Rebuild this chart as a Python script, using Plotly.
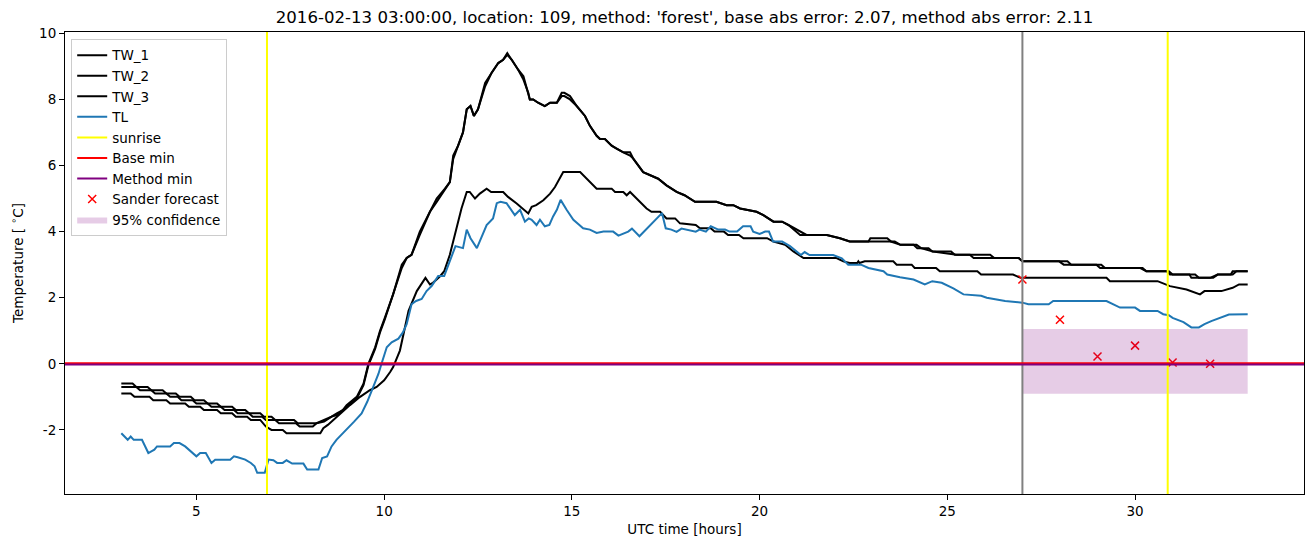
import plotly.graph_objects as go

# ---------------- data ----------------
t_tw1 = [3.0, 3.3, 3.4, 3.7, 3.8, 4.1, 4.2, 4.45, 4.55, 4.85, 4.95, 5.2, 5.3, 5.55, 5.65, 5.95, 6.05, 6.3,
         6.4, 6.7, 6.8, 7.0, 7.1, 7.6, 7.7, 8.1, 8.2, 8.4, 8.6, 8.74, 8.9, 9.0, 9.27, 9.45, 9.58, 9.76, 9.89,
         10.02, 10.24, 10.47, 10.6, 10.73, 10.95, 11.22, 11.4, 11.62, 11.75, 11.84, 11.97, 12.1, 12.2, 12.3,
         12.39, 12.5, 12.69, 12.86, 13.04, 13.17, 13.28, 13.4, 13.57, 13.71, 13.84, 13.88, 13.97, 14.1, 14.28,
         14.42, 14.6, 14.73, 14.8, 14.95, 15.13, 15.35, 15.48, 15.66, 15.75, 15.88, 16.06, 16.2, 16.37, 16.55,
         16.64, 16.9, 17.08, 17.3, 17.52, 17.79, 18.0, 18.28, 18.85, 19.12, 19.3, 19.48, 19.92, 20.1, 20.37,
         20.6, 20.77, 21.08, 21.25, 21.79, 22.14, 22.4, 22.94, 23.6, 23.75, 24.0, 24.18, 24.3, 24.62, 25.24,
         25.5, 26.14, 26.25, 26.9, 27.0, 27.98, 28.1, 28.97, 29.07, 30.13, 30.3, 30.85, 30.93, 31.45, 31.5,
         32.08, 32.2, 32.6, 32.7, 33.0]
tw1 = [-0.6, -0.6, -0.7, -0.7, -0.8, -0.8, -0.9, -0.9, -1.0, -1.0, -1.1, -1.1, -1.2, -1.2, -1.3, -1.3, -1.4, -1.4,
       -1.5, -1.5, -1.6, -1.6, -1.7, -1.7, -1.8, -1.8, -1.8, -1.7, -1.6, -1.5, -1.4, -1.25, -1.0, -0.6, 0.0, 0.5, 1.0,
       1.4, 2.1, 3.0, 3.2, 3.3, 4.0, 4.6, 5.0, 5.3, 5.5, 6.3, 6.6, 7.0, 7.7, 7.8,
       7.5, 7.7, 8.5, 8.8, 9.1, 9.2, 9.35, 9.2, 8.9, 8.7, 8.1, 8.0, 8.0, 7.9, 7.8,
       7.9, 7.9, 8.1, 8.1, 8.0, 7.8, 7.5, 7.2, 6.9, 6.8, 6.8, 6.6, 6.5, 6.4, 6.3,
       6.2, 5.8, 5.7, 5.6, 5.4, 5.2, 5.1, 4.9, 4.9, 4.8, 4.8, 4.7, 4.6, 4.5, 4.3,
       4.3, 4.2, 3.9, 3.9, 3.9, 3.8, 3.7, 3.7, 3.7, 3.6, 3.6, 3.6, 3.5, 3.4, 3.3,
       3.3, 3.3, 3.2, 3.2, 3.1, 3.1, 3.0, 3.0, 2.9, 2.9, 2.8, 2.8, 2.7, 2.7, 2.6,
       2.6, 2.7, 2.7, 2.8, 2.8]

t_tw2 = [3.0, 3.4, 3.5, 3.8, 3.9, 4.2, 4.3, 4.5, 4.6, 4.9, 5.0, 5.3, 5.4, 5.65, 5.75, 6.0, 6.1, 6.4, 6.5,
         6.75, 6.85, 7.1, 7.2, 7.65, 7.75, 8.1, 8.2, 8.4, 8.6, 8.74, 8.9, 9.0, 9.27, 9.45, 9.58, 9.76, 9.89,
         10.02, 10.24, 10.47, 10.6, 10.73, 10.95, 11.22, 11.4, 11.62, 11.75, 11.84, 11.97, 12.1, 12.2, 12.3,
         12.39, 12.5, 12.69, 12.86, 13.04, 13.17, 13.28, 13.4, 13.57, 13.71, 13.84, 13.88, 13.97, 14.1, 14.28,
         14.42, 14.6, 14.73, 14.8, 14.95, 15.13, 15.35, 15.48, 15.66, 15.75, 15.88, 16.06, 16.2, 16.37, 16.55,
         16.64, 16.9, 17.08, 17.3, 17.52, 17.79, 18.0, 18.28, 18.85, 19.12, 19.3, 19.48, 19.92, 20.1, 20.37,
         20.6, 20.77, 21.08, 21.25, 21.79, 22.14, 22.4, 22.9, 22.95, 23.4, 23.5, 23.75, 24.1, 24.2, 24.5, 24.6,
         25.1, 25.2, 25.6, 25.7, 26.9, 27.0, 28.2, 28.3, 29.1, 29.2, 30.2, 30.3, 30.9, 31.0, 31.6, 31.7, 32.0,
         32.2, 32.55, 32.6, 33.0]
tw2 = [-0.7, -0.7, -0.8, -0.8, -0.9, -0.9, -1.0, -1.0, -1.1, -1.1, -1.2, -1.2, -1.3, -1.3, -1.4, -1.4, -1.5, -1.5, -1.6,
       -1.6, -1.7, -1.7, -1.8, -1.8, -1.9, -1.9, -1.8, -1.75, -1.6, -1.55, -1.4, -1.3, -1.05, -0.65, -0.05, 0.45, 0.95,
       1.35, 2.1, 2.9, 3.2, 3.3, 3.9, 4.6, 4.9, 5.3, 5.5, 6.2, 6.6, 7.0, 7.7, 7.8,
       7.5, 7.7, 8.4, 8.8, 9.1, 9.2, 9.4, 9.2, 8.9, 8.6, 8.2, 8.0, 8.0, 7.9, 7.8,
       7.9, 7.9, 8.2, 8.2, 8.1, 7.8, 7.5, 7.2, 6.9, 6.8, 6.8, 6.6, 6.5, 6.4, 6.4,
       6.2, 5.8, 5.7, 5.6, 5.4, 5.2, 5.1, 4.9, 4.9, 4.8, 4.8, 4.7, 4.6, 4.5, 4.3,
       4.3, 4.2, 4.0, 3.9, 3.9, 3.8, 3.7, 3.7, 3.8, 3.8, 3.7, 3.6, 3.6, 3.5, 3.5, 3.4,
       3.4, 3.3, 3.3, 3.2, 3.2, 3.1, 3.1, 3.0, 3.0, 2.9, 2.9, 2.8, 2.8, 2.7, 2.7, 2.6, 2.6,
       2.7, 2.7, 2.8, 2.8]

t_tw3 = [3.0, 3.25, 3.35, 3.75, 3.85, 4.2, 4.3, 4.7, 4.8, 5.1, 5.2, 5.55, 5.65, 5.95, 6.05, 6.35, 6.45, 6.7,
         6.85, 7.0, 7.3, 7.4, 8.3, 8.38, 8.5, 8.74, 9.09, 9.36, 9.62, 9.8, 10.0, 10.16, 10.24, 10.42, 10.65,
         10.87, 11.1, 11.22, 11.3, 11.49, 11.6, 11.75, 11.93, 12.06, 12.2, 12.28, 12.42, 12.55, 12.73, 12.85,
         13.17, 13.3, 13.53, 13.75, 13.84, 13.93, 14.05, 14.24, 14.42, 14.55, 14.68, 14.77, 15.22, 15.66, 16.06,
         16.15, 16.37, 16.46, 16.55, 16.64, 16.99, 17.12, 17.35, 17.52, 17.75, 17.88, 18.3, 18.41, 18.7, 18.8,
         19.05, 19.16, 19.45, 19.57, 20.2, 20.37, 20.68, 20.9, 21.17, 22.05, 22.23, 22.4, 22.6, 22.63, 22.66,
         22.8, 23.56, 23.65, 24.05, 24.13, 24.7, 24.8, 25.8, 25.9, 26.75, 26.95, 29.24, 29.33, 30.6, 30.93,
         31.37, 31.73, 31.85, 32.3, 32.6, 32.77, 33.0]
tw3 = [-0.9, -0.9, -1.0, -1.0, -1.1, -1.1, -1.2, -1.2, -1.3, -1.3, -1.4, -1.4, -1.5, -1.5, -1.6, -1.6, -1.7, -1.7,
       -1.9, -2.0, -2.0, -2.1, -2.1, -1.95, -1.85, -1.6, -1.25, -1.0, -0.8, -0.7, -0.5, -0.25, -0.1, 0.4, 1.6,
       2.2, 2.6, 2.4, 2.45, 2.65, 2.8, 3.3, 4.1, 4.7, 5.2, 5.2, 5.0, 5.15, 5.3, 5.2,
       5.2, 5.05, 4.85, 4.65, 4.55, 4.75, 4.8, 4.95, 5.15, 5.35, 5.6, 5.8, 5.8, 5.3, 5.3,
       5.2, 5.2, 5.1, 5.2, 5.1, 4.7, 4.6, 4.6, 4.4, 4.4, 4.25, 4.2, 4.1, 4.1, 4.0,
       4.0, 3.9, 3.9, 3.8, 3.8, 3.7, 3.6, 3.4, 3.2, 3.2, 3.1, 3.05, 3.05, 3.1, 3.05,
       3.1, 3.1, 3.0, 3.0, 2.9, 2.9, 2.8, 2.8, 2.7, 2.7, 2.6, 2.6, 2.5, 2.5, 2.35,
       2.25, 2.1, 2.2, 2.2, 2.3, 2.4, 2.4]

t_tl = [3.0, 3.1, 3.17, 3.25, 3.33, 3.55, 3.72, 3.8, 3.88, 3.95, 4.3, 4.4, 4.55, 4.7, 4.85, 5.0, 5.1, 5.25, 5.4,
        5.5, 5.9, 6.0, 6.1, 6.3, 6.45, 6.55, 6.62, 6.82, 6.92, 7.05, 7.15, 7.3, 7.4, 7.55, 7.85, 7.95, 8.25,
        8.35, 8.48, 8.6, 8.73, 8.9, 9.09, 9.2, 9.4, 9.55, 9.71, 9.85, 9.93, 10.07, 10.2, 10.38, 10.5, 10.6,
        10.73, 10.85, 11.0, 11.13, 11.27, 11.44, 11.6, 11.75, 11.9, 12.1, 12.2, 12.3, 12.47, 12.6, 12.73, 12.9,
        13.0, 13.1, 13.26, 13.48, 13.62, 13.75, 13.85, 13.93, 14.06, 14.15, 14.28, 14.4, 14.5, 14.6, 14.7,
        14.86, 15.04, 15.2, 15.3, 15.48, 15.66, 15.84, 16.1, 16.24, 16.5, 16.6, 16.8, 17.4, 17.5, 17.65, 17.79,
        17.92, 18.3, 18.4, 18.57, 18.7, 18.9, 19.08, 19.2, 19.4, 19.56, 19.76, 19.83, 20.0, 20.15, 20.25,
        20.36, 20.6, 20.81, 21.1, 21.2, 21.33, 21.96, 22.19, 22.36, 22.7, 22.9, 23.3, 23.4, 23.74, 24.1, 24.4,
        24.6, 24.85, 25.16, 25.43, 25.9, 26.05, 26.54, 27.0, 27.16, 27.7, 27.82, 29.24, 29.4, 29.6, 30.0,
        30.13, 30.6, 30.75, 30.9, 31.0, 31.29, 31.5, 31.7, 31.85, 32.03, 32.26, 32.5, 33.0]
tl = [-2.1, -2.2, -2.3, -2.2, -2.3, -2.3, -2.7, -2.65, -2.6, -2.5, -2.5, -2.4, -2.4, -2.5, -2.65, -2.8, -2.7, -2.7, -3.0,
      -2.9, -2.9, -2.8, -2.83, -2.9, -3.0, -3.1, -3.3, -3.3, -2.9, -2.92, -3.0, -3.0, -2.92, -3.02, -3.02, -3.2, -3.2,
      -2.85, -2.8, -2.5, -2.3, -2.1, -1.9, -1.75, -1.5, -1.15, -0.7, -0.3, 0.0, 0.5, 0.65, 0.76, 0.95, 1.2,
      1.8, 1.9, 1.96, 2.2, 2.36, 2.66, 2.66, 3.1, 3.56, 3.5, 4.06, 3.8, 3.5, 3.85, 4.2, 4.4,
      4.86, 4.9, 4.86, 4.5, 4.66, 4.3, 4.4, 4.36, 4.2, 4.36, 4.16, 4.2, 4.46, 4.66, 4.96,
      4.66, 4.36, 4.2, 4.1, 4.06, 3.96, 4.0, 4.0, 3.88, 4.0, 4.09, 3.86, 4.56, 4.1, 4.06, 3.99,
      4.09, 4.0, 4.06, 4.0, 4.16, 4.06, 4.06, 4.0, 4.0, 4.16, 4.16, 4.0, 3.93, 4.0, 4.0,
      3.7, 3.7, 3.56, 3.29, 3.38, 3.29, 3.29, 3.19, 3.0, 3.0, 2.9, 2.8, 2.7, 2.62, 2.55, 2.4,
      2.5, 2.45, 2.28, 2.1, 2.06, 2.0, 1.9, 1.85, 1.8, 1.8, 1.9, 1.9, 1.8, 1.7, 1.7,
      1.6, 1.6, 1.5, 1.47, 1.39, 1.26, 1.1, 1.1, 1.2, 1.29, 1.4, 1.49, 1.5]

sunrise_hours = [6.88, 30.87]
forecast_start = 27.0
base_min = 0.02
method_min = -0.02
forecast_hours = [27, 28, 29, 30, 31, 32]
sander_forecast = [2.55, 1.33, 0.22, 0.55, 0.04, 0.0]
conf_hours = [27.0, 33.0]
conf_low = -0.91
conf_high = 1.05

x_ticks = [5, 10, 15, 20, 25, 30]
y_ticks = [-2, 0, 2, 4, 6, 8, 10]
x_range = [1.5, 34.5]
y_range = [-3.94, 10.04]

title_text = "2016-02-13 03:00:00, location: 109, method: 'forest', base abs error: 2.07, method abs error: 2.11"

# ---------------- figure ----------------
FONT = "DejaVu Sans"
fig = go.Figure()

for name, tt, vv in [("TW_1", t_tw1, tw1), ("TW_2", t_tw2, tw2), ("TW_3", t_tw3, tw3)]:
    fig.add_trace(go.Scatter(x=tt, y=vv, mode="lines", name=name,
                             line=dict(color="black", width=2)))
fig.add_trace(go.Scatter(x=t_tl, y=tl, mode="lines", name="TL",
                         line=dict(color="#1f77b4", width=2)))
# legend-only entries for the reference lines (drawn as shapes)
fig.add_trace(go.Scatter(x=[None], y=[None], mode="lines", name="sunrise",
                         line=dict(color="yellow", width=2)))
fig.add_trace(go.Scatter(x=[None], y=[None], mode="lines", name="Base min",
                         line=dict(color="red", width=2)))
fig.add_trace(go.Scatter(x=[None], y=[None], mode="lines", name="Method min",
                         line=dict(color="purple", width=2)))
fig.add_trace(go.Scatter(x=forecast_hours, y=sander_forecast, mode="markers", name="Sander forecast",
                         marker=dict(symbol="x-thin", size=8, color="red",
                                     line=dict(color="red", width=1.5))))
fig.add_trace(go.Scatter(x=[conf_hours[0], conf_hours[1], conf_hours[1], conf_hours[0], conf_hours[0]],
                         y=[conf_low, conf_low, conf_high, conf_high, conf_low],
                         mode="lines", fill="toself", fillcolor="rgba(128,0,128,0.2)",
                         line=dict(width=0, color="rgba(128,0,128,0)"), name="95% confidence"))

shapes = []
for h in sunrise_hours:
    shapes.append(dict(type="line", xref="x", yref="paper", x0=h, x1=h, y0=0, y1=1,
                       line=dict(color="yellow", width=2), layer="above"))
shapes.append(dict(type="line", xref="x", yref="paper", x0=forecast_start, x1=forecast_start, y0=0, y1=1,
                   line=dict(color="gray", width=2), layer="above"))
shapes.append(dict(type="line", xref="paper", yref="y", x0=0, x1=1, y0=base_min, y1=base_min,
                   line=dict(color="red", width=2), layer="above"))
shapes.append(dict(type="line", xref="paper", yref="y", x0=0, x1=1, y0=method_min, y1=method_min,
                   line=dict(color="purple", width=2), layer="above"))

fig.update_layout(
    width=1313, height=547,
    margin=dict(l=65, r=9, t=32, b=53),
    paper_bgcolor="white", plot_bgcolor="white",
    font=dict(family=FONT, size=13.5, color="black"),
    title=dict(text=title_text, x=(65 + 1239 / 2) / 1313, xanchor="center",
               y=1 - 17 / 547, yanchor="middle", font=dict(family=FONT, size=16.6, color="black")),
    shapes=shapes,
    showlegend=True,
    legend=dict(x=0.005, y=0.985, xanchor="left", yanchor="top",
                bgcolor="rgba(255,255,255,0.8)", bordercolor="#cccccc", borderwidth=1,
                font=dict(family=FONT, size=13.5, color="black"), tracegroupgap=0),
    xaxis=dict(range=x_range, tickvals=x_ticks, ticktext=[str(v) for v in x_ticks],
               showgrid=False, zeroline=False, showline=True, mirror=True, linecolor="black", linewidth=1,
               ticks="outside", ticklen=5, tickwidth=1, tickcolor="black",
               title=dict(text="UTC time [hours]", standoff=6, font=dict(family=FONT, size=13.5))),
    yaxis=dict(range=y_range, tickvals=y_ticks, ticktext=[str(v) for v in y_ticks],
               showgrid=False, zeroline=False, showline=True, mirror=True, linecolor="black", linewidth=1,
               ticks="outside", ticklen=5, tickwidth=1, tickcolor="black",
               title=dict(text="Temperature [ <sup>∘</sup>C]", standoff=12, font=dict(family=FONT, size=13.5))),
)

fig.write_html("out.html")
